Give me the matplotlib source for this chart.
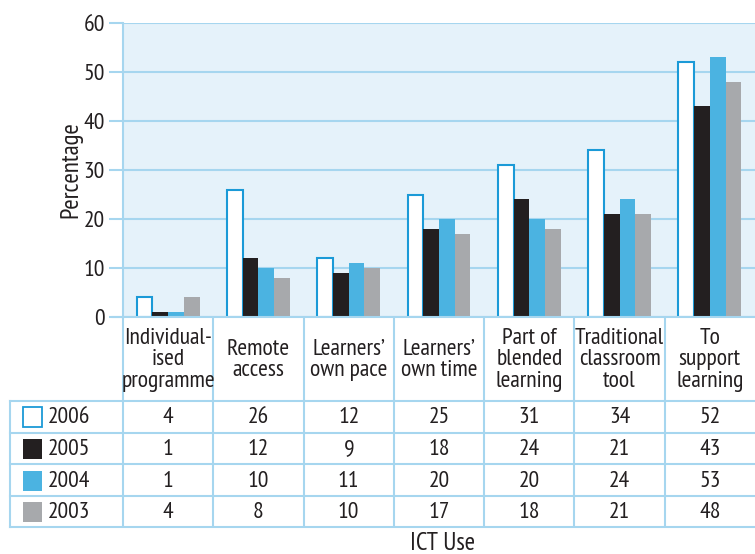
import matplotlib
matplotlib.use("Agg")
import matplotlib.pyplot as plt
from matplotlib.patches import Rectangle

plt.rcParams['font.family'] = ['PT Sans Narrow', 'DejaVu Sans']

categories = ["Individual-\nised\nprogramme", "Remote\naccess", "Learners\u2019\nown pace",
              "Learners\u2019\nown time", "Part of\nblended\nlearning",
              "Traditional\nclassroom\ntool", "To\nsupport\nlearning"]
years = ["2006", "2005", "2004", "2003"]
v2006 = [4, 26, 12, 25, 31, 34, 52]
v2005 = [1, 12, 9, 18, 24, 21, 43]
v2004 = [1, 10, 11, 20, 20, 24, 53]
v2003 = [4, 8, 10, 17, 18, 21, 48]
series = [v2006, v2005, v2004, v2003]
yticks = [0, 10, 20, 30, 40, 50, 60]

TEXT = "#231f20"
GRID = "#a6d6ef"
BG = "#e5f2fa"
fills = ["white", "#231f20", "#4bb3e1", "#a7a9ac"]
edges = ["#1b9ad7", "#231f20", "#4bb3e1", "#a7a9ac"]
FS = 17

W, H = 755, 554
fig = plt.figure(figsize=(W / 100, H / 100), dpi=100)

# pixel-space layout
left, right, top, base = 123, 755, 23, 317
ax = fig.add_axes([left / W, 1 - base / H, (right - left) / W, (base - top) / H])
ax.set_facecolor(BG)
n = len(categories)
ax.set_xlim(-0.5, n - 0.5)
ax.set_ylim(0, 60)
bw = 0.174
for i, vals in enumerate(series):
    xs = [c + (i - 1.5) * bw for c in range(n)]
    lw = 1.5 if i == 0 else 0
    ax.bar(xs, vals, width=bw, color=fills[i], edgecolor=edges[i], linewidth=lw, zorder=3)
ax.set_yticks(yticks)
ax.set_xticks([])
ax.yaxis.grid(True, color=GRID, linewidth=1.5, zorder=1)
ax.tick_params(axis='y', length=10, width=1.5, color=GRID, labelsize=FS, labelcolor=TEXT, pad=3)
for s in ["top", "right", "bottom"]:
    ax.spines[s].set_visible(False)
ax.spines["left"].set_color(GRID)
ax.spines["left"].set_linewidth(1.5)
ax.set_ylabel("Percentage", fontsize=FS + 1, color=TEXT, va="center")
ax.yaxis.set_label_coords(-0.082, 0.5)
ax.set_axisbelow(True)

# overlay for the data table in pixel coordinates
ov = fig.add_axes([0, 0, 1, 1], facecolor="none")
ov.set_xlim(0, W)
ov.set_ylim(H, 0)
ov.axis("off")

col_w = (right - left) / n
col_edges = [left + k * col_w for k in range(n + 1)]
row_edges = [400.5, 432.5, 464.3, 496, 527]
tbl_left = 10

for x in col_edges[:-1]:
    ov.plot([x, x], [base, row_edges[-1]], color=GRID, lw=1.5, solid_capstyle="butt")
ov.plot([tbl_left, tbl_left], [row_edges[0], row_edges[-1]], color=GRID, lw=1.5)
ov.plot([113, W], [base, base], color=GRID, lw=1.5)
for y in row_edges:
    ov.plot([tbl_left, W], [y, y], color=GRID, lw=1.5)

for k, lab in enumerate(categories):
    cx = (col_edges[k] + col_edges[k + 1]) / 2
    ov.text(cx, (base + row_edges[0]) / 2 + 1, lab, ha="center", va="center",
            fontsize=FS, color=TEXT, linespacing=1.02)

for r, (yr, vals) in enumerate(zip(years, series)):
    cy = (row_edges[r] + row_edges[r + 1]) / 2
    ov.add_patch(Rectangle((23, cy - 9.5), 19, 20, facecolor=fills[r],
                           edgecolor=edges[r], lw=1.3 if r == 0 else 0))
    ov.text(48, cy + 1, yr, ha="left", va="center", fontsize=FS, color=TEXT)
    for k, v in enumerate(vals):
        cx = (col_edges[k] + col_edges[k + 1]) / 2
        ov.text(cx, cy + 1, str(v), ha="center", va="center", fontsize=FS, color=TEXT)

ov.text(443, 543, "ICT Use", ha="center", va="center", fontsize=FS + 1, color=TEXT)

fig.savefig("out.png", dpi=100)
